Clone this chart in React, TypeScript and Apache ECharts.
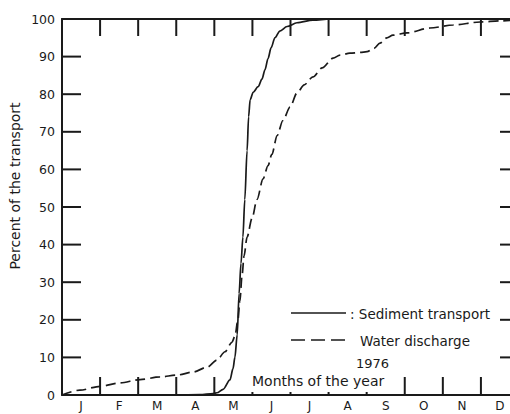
import React, { useEffect, useRef } from "react";
import * as echarts from "echarts";

const monthLabels = ["J", "F", "M", "A", "M", "J", "J", "A", "S", "O", "N", "D"];
const monthBoundaries = [1, 2, 3, 4, 5, 6, 7, 8, 9, 10, 11];
const percentTicks = [10, 20, 30, 40, 50, 60, 70, 80, 90];

// Sediment transport: [month position, cumulative percent]
const sedimentX = [0, 1, 2, 3, 3.62, 3.97, 4.07, 4.23, 4.41, 4.49, 4.54, 4.6, 4.65, 4.7, 4.75, 4.8, 4.86, 4.9, 4.94, 5.02, 5.15, 5.25, 5.33, 5.41, 5.49, 5.59, 5.72, 5.91, 6.17, 6.59, 7.04, 12];
const sedimentY = [0, 0, 0, 0, 0.1, 0.4, 0.6, 1.5, 4, 7, 10, 16, 27, 35, 42, 52, 65, 74, 78.5, 80.5, 82, 84, 86.5, 89.5, 92.3, 95, 96.8, 98, 99, 99.7, 100, 100];

// Water discharge
const waterX = [0, 0.47, 1.0, 1.52, 2.05, 2.57, 3.02, 3.44, 3.81, 4.07, 4.28, 4.46, 4.54, 4.62, 4.67, 4.73, 4.78, 4.86, 4.99, 5.12, 5.28, 5.41, 5.51, 5.65, 5.8, 5.99, 6.17, 6.36, 6.59, 6.83, 7.12, 7.3, 7.56, 7.83, 8.01, 8.19, 8.35, 8.53, 8.69, 9.06, 9.66, 10.27, 10.98, 11.5, 12];
const waterY = [0, 1.3, 2.3, 3.2, 4.1, 4.8, 5.3, 6.1, 7.4, 9.3, 11.5, 14, 15.6, 20, 25, 32, 37, 42, 47, 52, 57.5, 61, 64, 69, 73, 76.6, 80.3, 82.5, 84.6, 87, 89.6, 90.4, 90.9, 91.1, 91.3, 92.2, 93.6, 95, 95.7, 96.3, 97.6, 98.4, 99.2, 99.5, 99.8];

const yTitle = "Percent of the transport";
const legendSediment = ": Sediment transport";
const legendWater = "Water discharge";
const yearText = "1976";
const xTitle = "Months of the year";

const INK = "#1a1a1a";
const FONT = "DejaVu Sans";

export default function App() {
  const ref = useRef<HTMLDivElement>(null);
  useEffect(() => {
    if (!ref.current) return;
    const chart = echarts.init(ref.current, null, { renderer: "svg" });
    const sed = sedimentX.map((x, i) => [x, sedimentY[i]]);
    const wat = waterX.map((x, i) => [x, waterY[i]]);
    const tickStyle = { stroke: INK, lineWidth: 2 };
    const noteFont = `13.5px "${FONT}"`;
    chart.setOption({
      animation: false,
      backgroundColor: "#fff",
      grid: { left: 62, top: 19, right: 0, bottom: 19, containLabel: false, outerBoundsMode: "none" },
      xAxis: [
        {
          type: "category",
          data: monthLabels,
          position: "bottom",
          boundaryGap: true,
          axisLine: { show: true, onZero: false, lineStyle: { color: INK, width: 2 } },
          axisTick: { show: false },
          axisLabel: { color: INK, fontFamily: FONT, fontSize: 12, margin: 5, interval: 0, lineHeight: 12 },
          splitLine: { show: false },
        },
        {
          type: "category",
          data: monthLabels,
          position: "top",
          boundaryGap: true,
          axisLine: { show: true, onZero: false, lineStyle: { color: INK, width: 2 } },
          axisTick: { show: false },
          axisLabel: { show: false },
          splitLine: { show: false },
        },
        {
          type: "value",
          min: 0,
          max: 12,
          show: false,
        },
      ],
      yAxis: [
        {
          type: "value",
          min: 0,
          max: 100,
          interval: 10,
          position: "left",
          axisLine: { show: true, onZero: false, lineStyle: { color: INK, width: 2 } },
          axisTick: { show: false },
          axisLabel: { color: INK, fontFamily: FONT, fontSize: 12.5, margin: 7 },
          splitLine: { show: false },
        },
        {
          type: "value",
          min: 0,
          max: 100,
          interval: 10,
          position: "right",
          axisLine: { show: true, onZero: false, lineStyle: { color: INK, width: 2 } },
          axisTick: { show: false },
          axisLabel: { show: false },
          splitLine: { show: false },
        },
      ],
      series: [
        {
          type: "custom",
          name: "percentTicks",
          xAxisIndex: 2,
          yAxisIndex: 0,
          data: percentTicks.map((v) => [0, v]),
          silent: true,
          clip: false,
          renderItem: (params: any, api: any) => {
            const v = api.value(1);
            const l = api.coord([0, v]);
            const r = api.coord([12, v]);
            return {
              type: "group",
              children: [
                { type: "line", shape: { x1: l[0], y1: l[1], x2: l[0] + 19, y2: l[1] }, style: tickStyle },
                { type: "line", shape: { x1: r[0] - 19, y1: r[1], x2: r[0], y2: r[1] }, style: tickStyle },
              ],
            };
          },
          z: 4,
        },
        {
          type: "custom",
          name: "monthTicks",
          xAxisIndex: 2,
          yAxisIndex: 0,
          data: monthBoundaries.map((m) => [m, 0]),
          silent: true,
          clip: false,
          renderItem: (params: any, api: any) => {
            const m = api.value(0);
            const b = api.coord([m, 0]);
            const t = api.coord([m, 100]);
            return {
              type: "group",
              children: [
                { type: "line", shape: { x1: b[0], y1: b[1], x2: b[0], y2: b[1] - 18 }, style: tickStyle },
                { type: "line", shape: { x1: t[0], y1: t[1], x2: t[0], y2: t[1] + 17 }, style: tickStyle },
              ],
            };
          },
          z: 4,
        },
        {
          type: "line",
          name: "Sediment transport",
          xAxisIndex: 2,
          yAxisIndex: 0,
          data: sed,
          showSymbol: false,
          smooth: 0.3,
          smoothMonotone: "x",
          lineStyle: { color: INK, width: 1.7, type: "solid" },
          z: 3,
        },
        {
          type: "line",
          name: "Water discharge",
          xAxisIndex: 2,
          yAxisIndex: 0,
          data: wat,
          showSymbol: false,
          smooth: 0.3,
          smoothMonotone: "x",
          lineStyle: { color: INK, width: 1.7, type: [10, 5] },
          z: 3,
        },
      ],
      graphic: [
        {
          type: "text",
          x: 15,
          y: 186,
          rotation: Math.PI / 2,
          z: 20,
          style: {
            text: yTitle,
            fill: INK,
            font: `14px "${FONT}"`,
            align: "center",
            verticalAlign: "middle",
          },
        },
        {
          type: "line",
          z: 20,
          shape: { x1: 291, y1: 313, x2: 346, y2: 313 },
          style: { stroke: INK, lineWidth: 1.7 },
        },
        {
          type: "text",
          x: 350,
          y: 314,
          z: 20,
          style: { text: legendSediment, fill: INK, font: noteFont, verticalAlign: "middle" },
        },
        {
          type: "line",
          z: 20,
          shape: { x1: 291, y1: 340, x2: 346, y2: 340 },
          style: { stroke: INK, lineWidth: 1.7, lineDash: [14, 6] },
        },
        {
          type: "text",
          x: 360,
          y: 341,
          z: 20,
          style: { text: legendWater, fill: INK, font: noteFont, verticalAlign: "middle" },
        },
        {
          type: "text",
          x: 356,
          y: 363,
          z: 20,
          style: { text: yearText, fill: INK, font: `13px "${FONT}"`, verticalAlign: "middle" },
        },
        {
          type: "rect",
          z: 19,
          shape: { x: 250, y: 372, width: 142, height: 20 },
          style: { fill: "#fff" },
        },
        {
          type: "text",
          x: 252,
          y: 381,
          z: 20,
          style: { text: xTitle, fill: INK, font: `14px "${FONT}"`, verticalAlign: "middle" },
        },
      ],
    });
    return () => chart.dispose();
  }, []);
  return (
    <div style={{ position: "absolute", left: 0, top: 0, width: 510, height: 414, overflow: "hidden", background: "#fff" }}>
      <div ref={ref} style={{ width: 519, height: 414 }} />
    </div>
  );
}
